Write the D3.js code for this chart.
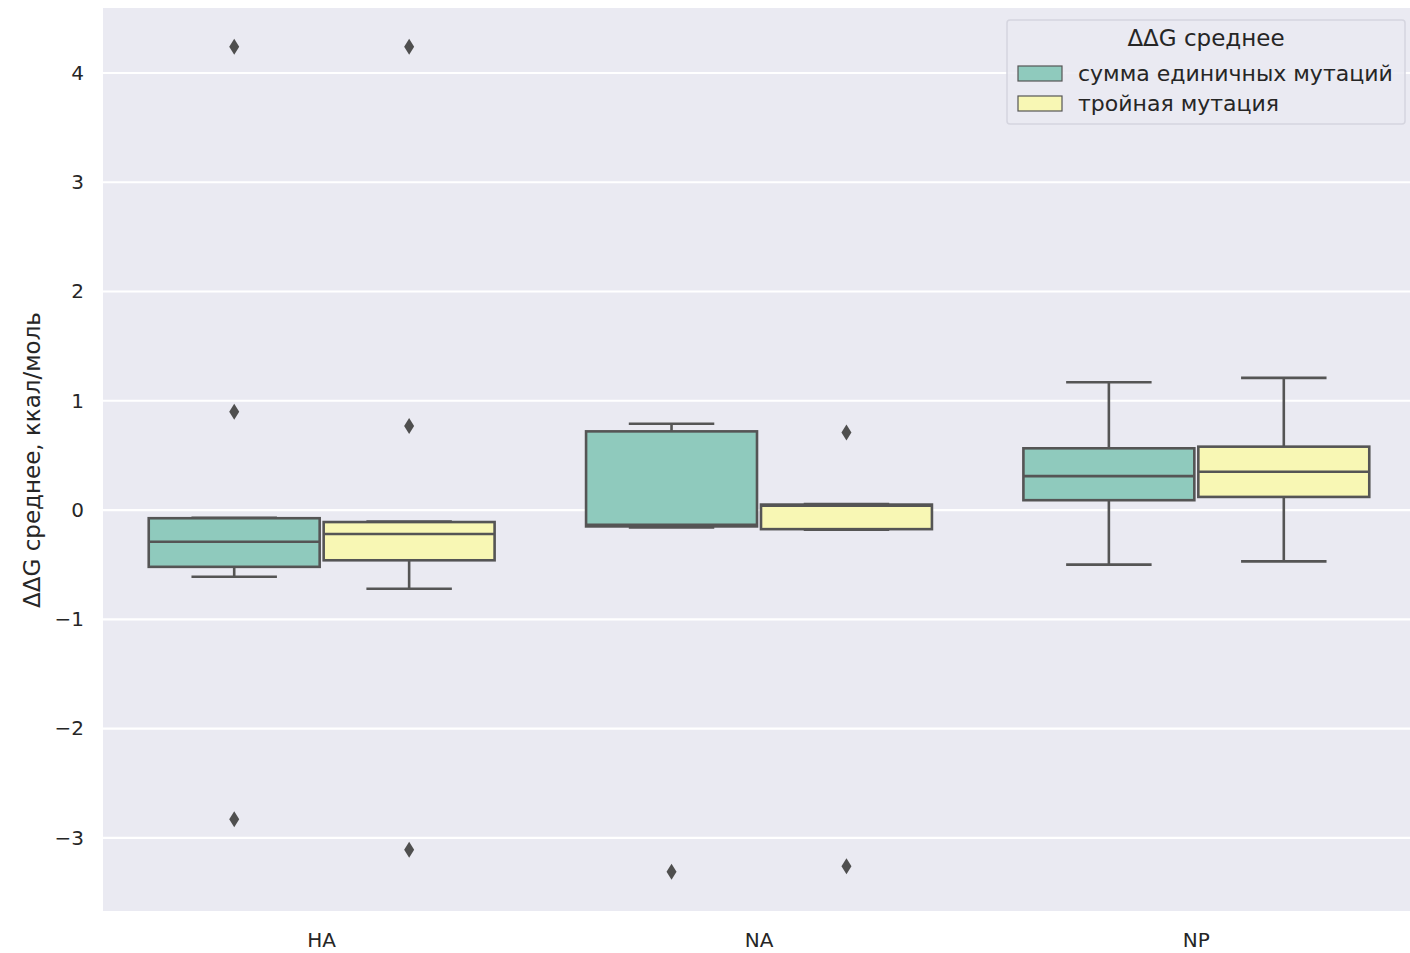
<!DOCTYPE html>
<html>
<head>
<meta charset="utf-8">
<script src="https://cdn.jsdelivr.net/npm/d3@7"></script>
<style>
  html, body { margin: 0; padding: 0; background: #ffffff; }
  svg { display: block; font-family: "DejaVu Sans", sans-serif; }
</style>
</head>
<body>
<svg id="chart" width="1410" height="953"></svg>
<script>
// Protein groups on the x axis
const categories = ["HA", "NA", "NP"];
// Hue groups (legend order)
const seriesNames = ["сумма единичных мутаций", "тройная мутация"];
const seriesColors = ["#8fcabd", "#f8f7b4"];

// Box statistics per category, one array per series: [whiskerLow, Q1, median, Q3, whiskerHigh]
const singleSumStats = [
  [-0.61, -0.52, -0.29, -0.075, -0.07],
  [-0.16, -0.15, -0.135, 0.72, 0.79],
  [-0.50, 0.09, 0.31, 0.565, 1.17]
];
const tripleStats = [
  [-0.72, -0.46, -0.22, -0.11, -0.105],
  [-0.18, -0.175, 0.04, 0.05, 0.055],
  [-0.47, 0.12, 0.35, 0.58, 1.21]
];
// Outlier values per category
const singleSumOutliers = [[4.24, 0.90, -2.83], [-3.31], []];
const tripleOutliers = [[4.24, 0.77, -3.11], [0.71, -3.26], []];

const yTicks = [-3, -2, -1, 0, 1, 2, 3, 4];
const yLabel = "ΔΔG среднее, ккал/моль";
const legendTitle = "ΔΔG среднее";

const svg = d3.select("#chart");
const margin = { left: 103, top: 8, right: -5, bottom: 42 };
const W = 1410, H = 953;
const plotW = W - margin.left - margin.right;
const plotH = H - margin.top - margin.bottom;

const x = d3.scaleBand().domain(categories).range([margin.left, margin.left + plotW]).padding(0);
const y = d3.scaleLinear().domain([-3.67, 4.595]).range([margin.top + plotH, margin.top]);

const hue = d3.scaleBand().domain(seriesNames).range([0, x.bandwidth() * 0.8]).padding(0);

const lineColor = "#555555";
const lw = 2.6;

// background
svg.append("rect")
  .attr("x", margin.left).attr("y", margin.top)
  .attr("width", plotW).attr("height", plotH)
  .attr("fill", "#eaeaf2");

// grid
svg.append("g").selectAll("line").data(yTicks).join("line")
  .attr("x1", margin.left).attr("x2", margin.left + plotW)
  .attr("y1", d => y(d)).attr("y2", d => y(d))
  .attr("stroke", "#ffffff").attr("stroke-width", 2.2);

// y axis
const yAxis = d3.axisLeft(y).tickValues(yTicks).tickSize(0).tickPadding(19)
  .tickFormat(d => d < 0 ? "\u2212" + Math.abs(d) : String(d));
svg.append("g")
  .attr("transform", `translate(${margin.left},0)`)
  .call(yAxis)
  .call(g => g.select(".domain").remove())
  .call(g => g.selectAll("text").attr("font-size", 20).attr("fill", "#262626")
    .attr("font-family", "DejaVu Sans, sans-serif"));

// x axis
const xAxis = d3.axisBottom(x).tickSize(0).tickPadding(22);
svg.append("g")
  .attr("transform", `translate(0,${margin.top + plotH})`)
  .call(xAxis)
  .call(g => g.select(".domain").remove())
  .call(g => g.selectAll("text").attr("font-size", 20).attr("fill", "#262626")
    .attr("font-family", "DejaVu Sans, sans-serif"));

// y label
svg.append("text")
  .attr("transform", `translate(40,460) rotate(-90)`)
  .attr("text-anchor", "middle")
  .attr("font-size", 23).attr("fill", "#262626")
  .text(yLabel);

const statsBySeries = [singleSumStats, tripleStats];
const outliersBySeries = [singleSumOutliers, tripleOutliers];

const gBoxes = svg.append("g");
seriesNames.forEach((name, si) => {
  categories.forEach((cat, ci) => {
    const s = statsBySeries[si][ci];
    const slotX = x(cat) + x.bandwidth() * 0.1 + hue(name);
    const slotW = hue.bandwidth();
    const bx = slotX + 2, bw = slotW - 4;
    const cx = slotX + slotW / 2;
    const capHalf = bw / 4;
    const g = gBoxes.append("g");
    // whiskers
    g.append("line").attr("x1", cx).attr("x2", cx)
      .attr("y1", y(s[0])).attr("y2", y(s[1]))
      .attr("stroke", lineColor).attr("stroke-width", lw);
    g.append("line").attr("x1", cx).attr("x2", cx)
      .attr("y1", y(s[3])).attr("y2", y(s[4]))
      .attr("stroke", lineColor).attr("stroke-width", lw);
    // box
    g.append("rect")
      .attr("x", bx).attr("width", bw)
      .attr("y", y(s[3])).attr("height", Math.max(0.5, y(s[1]) - y(s[3])))
      .attr("fill", seriesColors[si])
      .attr("stroke", lineColor).attr("stroke-width", lw);
    // median
    g.append("line").attr("x1", bx).attr("x2", bx + bw)
      .attr("y1", y(s[2])).attr("y2", y(s[2]))
      .attr("stroke", lineColor).attr("stroke-width", lw);
    // caps
    [s[0], s[4]].forEach(v => {
      g.append("line").attr("x1", cx - capHalf).attr("x2", cx + capHalf)
        .attr("y1", y(v)).attr("y2", y(v))
        .attr("stroke", lineColor).attr("stroke-width", lw);
    });
    // outliers as diamonds
    outliersBySeries[si][ci].forEach(v => {
      const py = y(v);
      g.append("path")
        .attr("d", `M${cx},${py - 8} L${cx + 5},${py} L${cx},${py + 8} L${cx - 5},${py} Z`)
        .attr("fill", "#4f4f4f");
    });
  });
});

// legend
const lg = svg.append("g").attr("transform", "translate(1007,20)");
lg.append("rect").attr("x", 0).attr("y", 0).attr("width", 398).attr("height", 104).attr("rx", 3)
  .attr("fill", "#eaeaf2").attr("fill-opacity", 0.85)
  .attr("stroke", "#d5d5df").attr("stroke-width", 1.5);
lg.append("text").attr("x", 199).attr("y", 26).attr("text-anchor", "middle")
  .attr("font-size", 23).attr("fill", "#262626").text(legendTitle);
seriesNames.forEach((name, i) => {
  const ry = 46 + i * 30;
  lg.append("rect").attr("x", 11).attr("y", ry).attr("width", 44).attr("height", 15)
    .attr("fill", seriesColors[i]).attr("stroke", lineColor).attr("stroke-width", 1.2);
  lg.append("text").attr("x", 71).attr("y", ry + 15)
    .attr("font-size", 22).attr("fill", "#262626").text(name);
});
</script>
</body>
</html>
